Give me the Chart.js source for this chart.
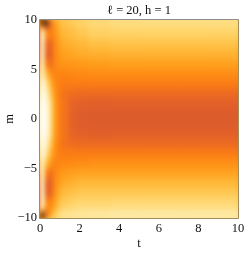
<!DOCTYPE html>
<html>
<head>
<meta charset="utf-8">
<style>
body { margin: 0; background: #fff; }
canvas { display: block; }
</style>
<script src="https://cdn.jsdelivr.net/npm/chart.js@4"></script>
</head>
<body>
<svg width="0" height="0" style="position:absolute">
  <filter id="smooth" x="0" y="0" width="100%" height="100%" color-interpolation-filters="sRGB">
    <feGaussianBlur stdDeviation="2 3.4"></feGaussianBlur>
  </filter>
</svg>
<canvas id="chart-container" width="249" height="254"></canvas>
<script>
// cell edges of the density plot (finer where it changes fast)
var tEdges = [0, 0.1, 0.2, 0.4, 0.6, 0.8, 1, 1.4, 1.8, 2.4, 3.5, 5, 7, 8.5, 10];
var mEdges = [10, 9.5, 9, 8, 7, 6, 5, 4, 3, 2, 1, 0, -1, -2, -3, -4, -5, -6, -7, -8, -9, -9.5, -10];

var xTicks = [0, 2, 4, 6, 8, 10];
var yTicks = [-10, -5, 0, 5, 10];

// estimated level per cell, top row first, 0 = white, 1 = black
var levels = [
    [1.00, 1.00, 1.00, 0.86, 0.60, 0.50, 0.44, 0.41, 0.37, 0.33, 0.31, 0.30, 0.30, 0.30],
    [0.50, 0.80, 0.90, 0.72, 0.62, 0.53, 0.47, 0.44, 0.40, 0.36, 0.34, 0.34, 0.34, 0.34],
    [0.05, 0.20, 0.64, 0.72, 0.64, 0.56, 0.50, 0.47, 0.44, 0.40, 0.39, 0.39, 0.39, 0.39],
    [0.06, 0.26, 0.80, 0.84, 0.67, 0.60, 0.54, 0.52, 0.50, 0.47, 0.46, 0.46, 0.46, 0.46],
    [0.06, 0.30, 0.85, 0.87, 0.68, 0.62, 0.58, 0.56, 0.54, 0.53, 0.52, 0.52, 0.52, 0.52],
    [0.08, 0.30, 0.70, 0.78, 0.68, 0.64, 0.62, 0.61, 0.60, 0.59, 0.58, 0.58, 0.58, 0.58],
    [0.10, 0.24, 0.48, 0.64, 0.68, 0.68, 0.68, 0.67, 0.66, 0.65, 0.65, 0.65, 0.65, 0.65],
    [0.06, 0.12, 0.28, 0.52, 0.65, 0.70, 0.72, 0.72, 0.72, 0.72, 0.72, 0.72, 0.72, 0.72],
    [0.03, 0.07, 0.16, 0.42, 0.62, 0.70, 0.76, 0.79, 0.80, 0.80, 0.80, 0.80, 0.80, 0.80],
    [0.01, 0.04, 0.11, 0.32, 0.59, 0.68, 0.76, 0.84, 0.87, 0.88, 0.87, 0.87, 0.87, 0.87],
    [0.00, 0.02, 0.08, 0.30, 0.58, 0.68, 0.76, 0.86, 0.89, 0.90, 0.90, 0.90, 0.90, 0.90],
    [0.00, 0.02, 0.08, 0.30, 0.58, 0.68, 0.76, 0.86, 0.89, 0.90, 0.90, 0.90, 0.90, 0.90],
    [0.01, 0.04, 0.11, 0.32, 0.59, 0.68, 0.76, 0.84, 0.87, 0.88, 0.87, 0.87, 0.87, 0.87],
    [0.03, 0.07, 0.16, 0.42, 0.62, 0.70, 0.76, 0.79, 0.80, 0.80, 0.80, 0.80, 0.80, 0.80],
    [0.06, 0.12, 0.28, 0.52, 0.65, 0.70, 0.72, 0.72, 0.72, 0.72, 0.72, 0.72, 0.72, 0.72],
    [0.10, 0.24, 0.48, 0.62, 0.68, 0.68, 0.67, 0.66, 0.65, 0.64, 0.64, 0.64, 0.64, 0.64],
    [0.08, 0.30, 0.70, 0.78, 0.68, 0.64, 0.60, 0.58, 0.57, 0.57, 0.57, 0.57, 0.57, 0.57],
    [0.06, 0.30, 0.85, 0.86, 0.66, 0.60, 0.54, 0.52, 0.50, 0.50, 0.50, 0.50, 0.50, 0.50],
    [0.06, 0.28, 0.84, 0.84, 0.64, 0.56, 0.48, 0.46, 0.43, 0.43, 0.43, 0.43, 0.43, 0.43],
    [0.05, 0.22, 0.66, 0.68, 0.58, 0.48, 0.42, 0.38, 0.36, 0.36, 0.35, 0.35, 0.35, 0.35],
    [0.30, 0.56, 0.66, 0.60, 0.50, 0.40, 0.32, 0.30, 0.27, 0.26, 0.25, 0.25, 0.25, 0.25],
    [1.00, 0.98, 0.88, 0.55, 0.42, 0.32, 0.26, 0.24, 0.22, 0.20, 0.19, 0.19, 0.19, 0.19]
];

// colour scale of the plot
var colourStops = [0, 0.12, 0.2, 0.3, 0.4, 0.5, 0.6, 0.7, 0.8, 0.9, 0.95, 1];
var colourValues = ['#ffffff', '#fff6d8', '#feeaa6', '#fee08a', '#ffd060', '#ffb838', '#ff9a18', '#fd8012', '#ec6a22', '#dd5c2c', '#8a4c28', '#1c140c'];

function hexToRgb(h) {
    return [parseInt(h.substr(1, 2), 16), parseInt(h.substr(3, 2), 16), parseInt(h.substr(5, 2), 16)];
}

function levelColour(z) {
    var i = 0;
    while (i < colourStops.length - 2 && z > colourStops[i + 1]) i++;
    var f = (z - colourStops[i]) / (colourStops[i + 1] - colourStops[i]);
    var a = hexToRgb(colourValues[i]);
    var b = hexToRgb(colourValues[i + 1]);
    return 'rgb(' + a.map(function (v, k) { return Math.round(v + (b[k] - v) * f); }).join(',') + ')';
}

var plotWidth = 198;

// one dataset per t column, each cell is a floating bar
var datasets = [];
for (var c = 0; c < tEdges.length - 1; c++) {
    var cells = [];
    var colours = [];
    for (var r = 0; r < mEdges.length - 1; r++) {
        cells.push({ x: (tEdges[c] + tEdges[c + 1]) / 2, y: [mEdges[r + 1], mEdges[r]] });
        colours.push(levelColour(levels[r][c]));
    }
    datasets.push({
        data: cells,
        backgroundColor: colours,
        borderWidth: 0,
        stack: 'cells',
        barThickness: (tEdges[c + 1] - tEdges[c]) * plotWidth / 10 + 1
    });
}

// smooths the cells like the original density plot, then draws the frame on top
var smoothAndFrame = {
    id: 'smoothAndFrame',
    afterDatasetsDraw: function (chart) {
        var a = chart.chartArea;
        var ctx = chart.ctx;
        var w = Math.round(a.right - a.left);
        var h = Math.round(a.bottom - a.top);
        var l = Math.round(a.left);
        var t = Math.round(a.top);
        var pad = 12;
        var off = document.createElement('canvas');
        off.width = w + pad * 2;
        off.height = h + pad * 2;
        var o = off.getContext('2d');
        o.drawImage(chart.canvas, l, t, w, h, 0, 0, off.width, off.height);
        o.drawImage(chart.canvas, l, t, w, h, pad, pad, w, h);
        ctx.save();
        ctx.beginPath();
        ctx.rect(l, t, w, h);
        ctx.clip();
        ctx.filter = 'url(#smooth)';
        ctx.drawImage(off, l - pad, t - pad);
        ctx.restore();

        ctx.save();
        ctx.lineWidth = 1;
        ctx.strokeStyle = '#8c8c8c';
        ctx.beginPath();
        ctx.moveTo(l - 0.5, a.bottom + 0.5);
        ctx.lineTo(l - 0.5, t - 0.5);
        ctx.lineTo(a.right + 0.5, t - 0.5);
        ctx.stroke();
        ctx.strokeStyle = '#a08c5c';
        ctx.beginPath();
        ctx.moveTo(a.right + 0.5, t - 0.5);
        ctx.lineTo(a.right + 0.5, a.bottom + 0.5);
        ctx.lineTo(l - 0.5, a.bottom + 0.5);
        ctx.stroke();
        ctx.restore();
    }
};

function minusSign(v) {
    return String(v).replace('-', '\u2212');
}

var font = { family: '"Liberation Serif", serif', size: 12.5 };

var chart = new Chart(document.getElementById('chart-container').getContext('2d'), {
    type: 'bar',
    data: { datasets: datasets },
    plugins: [smoothAndFrame],
    options: {
        responsive: false,
        animation: false,
        layout: { padding: { top: 0, right: 11, bottom: 0, left: 0 } },
        plugins: {
            legend: { display: false },
            tooltip: { enabled: false },
            title: {
                display: true,
                fullSize: false,
                text: '\u2113 = 20, h = 1',
                color: '#111',
                font: { family: font.family, size: 12.5, weight: 'normal' },
                padding: { top: 3, bottom: 2 }
            }
        },
        scales: {
            x: {
                type: 'linear',
                stacked: true,
                offset: false,
                min: 0,
                max: 10,
                afterBuildTicks: function (s) { s.ticks = xTicks.map(function (v) { return { value: v }; }); },
                grid: { display: false, drawTicks: false },
                border: { display: false },
                ticks: { color: '#111', font: font, padding: 3, maxRotation: 0, autoSkip: false, callback: minusSign },
                title: { display: true, text: 't', color: '#111', font: { family: font.family, size: 12.5 }, padding: { top: 5, bottom: 3 } },
                afterFit: function (s) { s.height = 36; }
            },
            y: {
                min: -10,
                max: 10,
                afterBuildTicks: function (s) { s.ticks = yTicks.map(function (v) { return { value: v }; }); },
                grid: { display: false, drawTicks: false },
                border: { display: false },
                ticks: { color: '#111', font: font, padding: 3, autoSkip: false, callback: minusSign },
                title: { display: true, text: 'm', color: '#111', font: { family: font.family, size: 12.5 }, padding: 2 },
                afterFit: function (s) { s.width = 40; }
            }
        }
    }
});
</script>
</body>
</html>
